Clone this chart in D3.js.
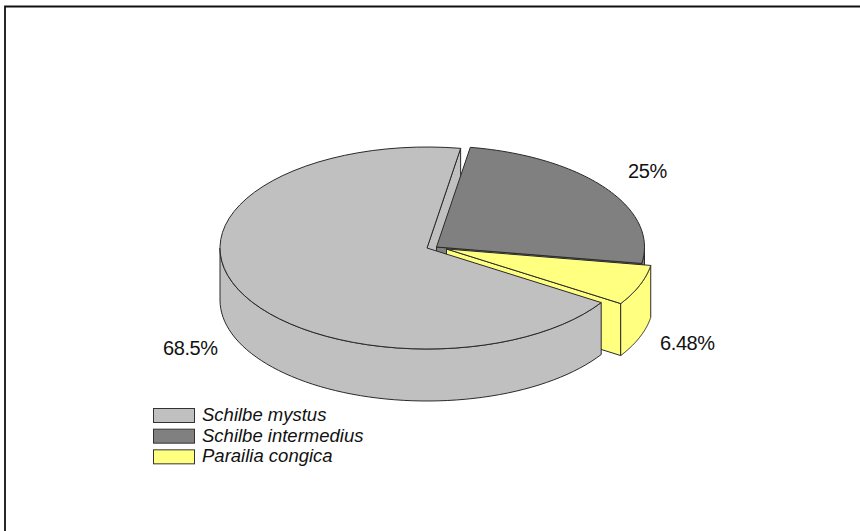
<!DOCTYPE html>
<html><head><meta charset="utf-8">
<script src="https://cdn.jsdelivr.net/npm/d3@7"></script>
<style>html,body{margin:0;padding:0;background:#fff}svg{display:block}text{font-family:"Liberation Sans",Arial,sans-serif;fill:#111}</style>
</head><body><svg id="c" width="860" height="531"></svg>
<script>
const categories=["Schilbe mystus","Schilbe intermedius","Parailia congica"];
const values=[68.5,25,6.48];
const valueLabels=["68.5%","25%","6.48%"];
const colors=["#c0c0c0","#808080","#ffff80"];
const centers=[[427,248],[436.5,247],[446.5,249]];
const labelPos=[[163,355],[628,178],[660,350]];
const rx=[207,208,207],ry=101,depth=52;
const edge="#2a2a2a";
const svg=d3.select("#c");
svg.append("path").attr("d","M5,531V6.5H860").attr("fill","none").attr("stroke","#111").attr("stroke-width",1.8);
const arcs=d3.pie().sort(null).startAngle(122.7*Math.PI/180).endAngle((122.7+360)*Math.PI/180)(values);
const line=d3.line();
const pt=(i,a,dz=0)=>[centers[i][0]+rx[i]*Math.sin(a),centers[i][1]-ry*Math.cos(a)+dz];
const arcPts=(i,a0,a1,dz=0)=>d3.range(0,61).map(k=>pt(i,a0+(a1-a0)*k/60,dz));
const draw=(pts,i)=>svg.append("path").attr("d",line(pts)+"Z").attr("fill",colors[i]).attr("stroke",edge).attr("stroke-width",1).attr("stroke-linejoin","round");
function cutWall(i,a){const c=centers[i],p=pt(i,a);draw([c,p,[p[0],p[1]+depth],[c[0],c[1]+depth]],i);}
function outerWall(i,a0,a1){const lo=Math.max(a0,Math.PI/2),hi=Math.min(a1,1.5*Math.PI);if(hi<=lo)return;draw(arcPts(i,lo,hi).concat(arcPts(i,hi,lo,depth)),i);}
function topFace(i,a0,a1){draw([centers[i]].concat(arcPts(i,a0,a1)),i);}
const [g,dk,y]=arcs;
const tau=2*Math.PI;
cutWall(0,g.endAngle);
outerWall(1,dk.startAngle-tau,dk.endAngle-tau);
cutWall(1,dk.endAngle-tau);
topFace(1,dk.startAngle,dk.endAngle);
cutWall(2,y.endAngle-tau);
outerWall(2,y.startAngle-tau,y.endAngle-tau);
topFace(2,y.startAngle,y.endAngle);
outerWall(0,g.startAngle,g.endAngle);
topFace(0,g.startAngle,g.endAngle);
svg.selectAll("text.val").data(valueLabels).join("text").attr("class","val")
 .attr("x",(t,i)=>labelPos[i][0]).attr("y",(t,i)=>labelPos[i][1]).attr("font-size",20).attr("letter-spacing",-0.4).text(t=>t);
const ly=d3.scaleBand().domain(categories).range([405,467]);
const lg=svg.selectAll("g.l").data(categories).join("g").attr("class","l").attr("transform",t=>`translate(153,${ly(t)})`);
lg.append("rect").attr("x",0.5).attr("y",3.5).attr("width",41).attr("height",14).attr("fill",(t,i)=>colors[i]).attr("stroke","#333");
lg.append("text").attr("x",49).attr("y",16).attr("font-size",18.5).attr("font-style","italic").text(t=>t);
</script></body></html>
